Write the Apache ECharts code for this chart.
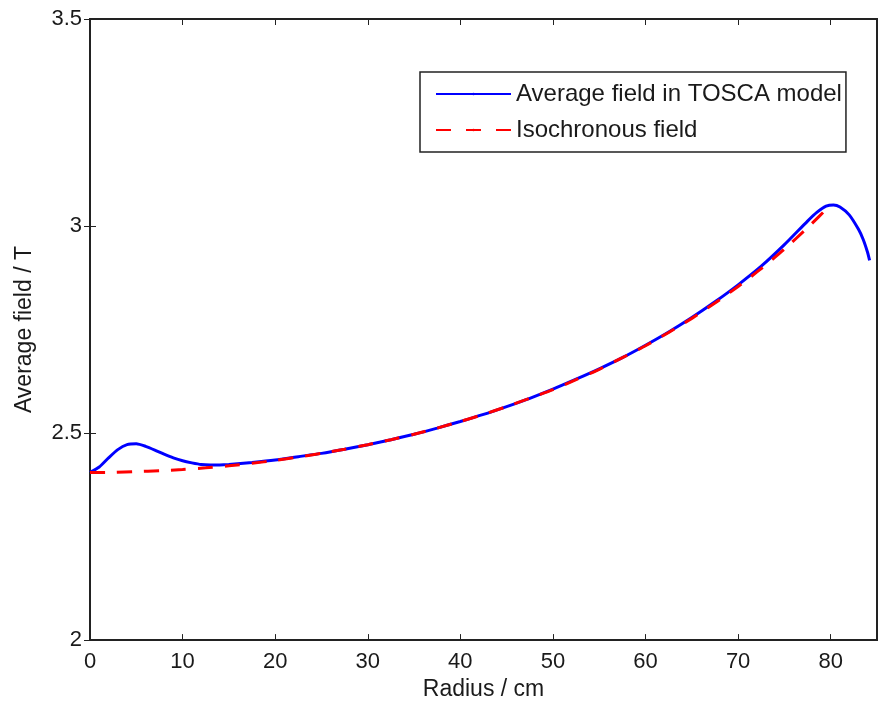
<!DOCTYPE html>
<html><head><meta charset="utf-8">
<script src="https://cdn.jsdelivr.net/npm/echarts@6/dist/echarts.min.js"></script>
<style>html,body{margin:0;padding:0;background:#fff}#c{width:880px;height:706px}</style>
</head><body><div id="c"></div>
<script>
const radiusTosca = [0,1,2,3,4,5,6,7,8,9,10,11,12,13,14,15,17.5,20,22.5,25,27.5,30,32.5,35,37.5,40,42.5,45,47.5,50,52.5,55,57.5,60,62.5,65,67.5,70,72.5,75,77.5,78.5,79.5,80.3,81,82,83,83.5,84,84.2];
const fieldTosca  = [2.405,2.418,2.440,2.460,2.472,2.474,2.468,2.459,2.449,2.440,2.433,2.428,2.424,2.423,2.423,2.424,2.429,2.435,2.443,2.451,2.461,2.472,2.484,2.497,2.512,2.528,2.545,2.564,2.584,2.606,2.630,2.655,2.682,2.712,2.744,2.779,2.817,2.858,2.903,2.955,3.012,3.033,3.048,3.051,3.046,3.027,2.992,2.968,2.935,2.917];
const radiusIso = [0,2.5,5,7.5,10,12.5,15,17.5,20,22.5,25,27.5,30,32.5,35,37.5,40,42.5,45,47.5,50,52.5,55,57.5,60,62.5,65,67.5,70,72.5,75,77.5,80];
const fieldIso  = [2.405,2.405,2.407,2.409,2.412,2.416,2.421,2.427,2.434,2.442,2.451,2.461,2.472,2.484,2.497,2.512,2.528,2.545,2.564,2.584,2.605,2.629,2.654,2.682,2.711,2.743,2.777,2.814,2.854,2.897,2.944,2.996,3.051];
const xTicks = [0,10,20,30,40,50,60,70,80];
const yTicks = [2,2.5,3,3.5];
const seriesNames = ['Average field in TOSCA model','Isochronous field'];

const FONT = "'Liberation Sans', Arial, Helvetica, sans-serif";
const TXT = '#1a1a1a';
const chart = echarts.init(document.getElementById('c'), null, {renderer:'canvas'});
const tickCommon = {show:true, inside:true, length:6, lineStyle:{color:'#222', width:1}};
chart.setOption({
  animation:false,
  backgroundColor:'#fff',
  textStyle:{fontFamily:FONT},
  grid:{left:90, top:19, right:3, bottom:63, show:true, borderColor:'#222', borderWidth:2, backgroundColor:'#fff'},
  xAxis:[
    {type:'value', min:0, max:85, interval:10, position:'bottom',
     axisLine:{show:false}, axisTick:tickCommon, splitLine:{show:false},
     axisLabel:{margin:11, fontSize:22, color:TXT, fontFamily:FONT,
       formatter:v => xTicks.includes(v) ? String(v) : ''},
     name:'Radius / cm', nameLocation:'middle', nameGap:35,
     nameTextStyle:{fontSize:23, color:TXT, fontFamily:FONT}},
    {type:'value', min:0, max:85, interval:10, position:'top',
     axisLine:{show:false}, axisTick:tickCommon, splitLine:{show:false}, axisLabel:{show:false}}
  ],
  yAxis:[
    {type:'value', min:2, max:3.5, interval:0.5, position:'left',
     axisLine:{show:false}, axisTick:tickCommon, splitLine:{show:false},
     axisLabel:{margin:8, fontSize:22, color:TXT, fontFamily:FONT,
       formatter:v => yTicks.some(t => Math.abs(t-v)<1e-9) ? String(+v.toFixed(2)) : ''},
     name:'Average field / T', nameLocation:'middle', nameGap:54, nameRotate:90,
     nameTextStyle:{fontSize:23, color:TXT, fontFamily:FONT}},
    {type:'value', min:2, max:3.5, interval:0.5, position:'right',
     axisLine:{show:false}, axisTick:tickCommon, splitLine:{show:false}, axisLabel:{show:false}}
  ],
  legend:{
    data:[
      {name:seriesNames[0]},
      {name:seriesNames[1], lineStyle:{type:[15,15]}}
    ],
    orient:'vertical', left:420, top:72,
    padding:[10,4,10,15], itemWidth:75, itemHeight:3, itemGap:12,
    borderColor:'#222', borderWidth:1.5, backgroundColor:'#fff',
    textStyle:{fontSize:24, color:TXT, fontFamily:FONT}
  },
  series:[
    {name:seriesNames[0], type:'line', xAxisIndex:0, yAxisIndex:0, symbol:'none',
     smooth:0.2,
     data:radiusTosca.map((r,i)=>[r, fieldTosca[i]]),
     lineStyle:{color:'#0000ff', width:3}, itemStyle:{color:'#0000ff'}, z:2},
    {name:seriesNames[1], type:'line', xAxisIndex:0, yAxisIndex:0, symbol:'none',
     smooth:0.2,
     data:radiusIso.map((r,i)=>[r, fieldIso[i]]),
     lineStyle:{color:'#ff0000', width:3, type:[15,12]}, itemStyle:{color:'#ff0000'}, z:3}
  ]
});
</script></body></html>
